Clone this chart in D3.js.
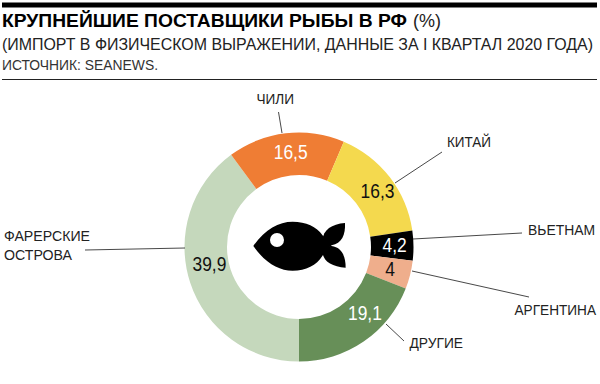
<!DOCTYPE html>
<html>
<head>
<meta charset="utf-8">
<script src="https://cdn.jsdelivr.net/npm/d3@7"></script>
<style>
  html, body { margin: 0; padding: 0; background: #fff; }
  text { font-family: "Liberation Sans", sans-serif; }
</style>
</head>
<body>
<div id="chart"></div>
<script>
const countries = ['ФАРЕРСКИЕ ОСТРОВА', 'ЧИЛИ', 'КИТАЙ', 'ВЬЕТНАМ', 'АРГЕНТИНА', 'ДРУГИЕ']
const shares = [39.9, 16.5, 16.3, 4.2, 4, 19.1]
const shareLabels = ['39,9', '16,5', '16,3', '4,2', '4', '19,1']
const colors = ['#c5d8bc', '#ef7d34', '#f4d94e', '#000000', '#efae8c', '#678f58']
const textColors = ['#111', '#fff', '#111', '#fff', '#111', '#fff']

const width = 600
const height = 384
const cx = 299
const cy = 247
const outer = 114.5
const inner = 72

const svg = d3.select('#chart')
    .append('svg')
    .attr('width', width)
    .attr('height', height)
    .style('display', 'block')

// header
svg.append('rect').attr('x', 2).attr('y', 2.5).attr('width', 595).attr('height', 5).attr('fill', '#000')
svg.append('rect').attr('x', 2).attr('y', 79).attr('width', 595).attr('height', 1).attr('fill', '#222')

svg.append('text').attr('x', 2).attr('y', 27).attr('font-size', 19).attr('font-weight', 700).attr('fill', '#000')
    .attr('textLength', 405).attr('lengthAdjust', 'spacingAndGlyphs')
    .text('КРУПНЕЙШИЕ ПОСТАВЩИКИ РЫБЫ В РФ')
svg.append('text').attr('x', 413).attr('y', 27).attr('font-size', 18).attr('fill', '#222')
    .attr('textLength', 28).attr('lengthAdjust', 'spacingAndGlyphs')
    .text('(%)')

svg.append('text').attr('x', 2).attr('y', 50).attr('font-size', 16).attr('fill', '#222')
    .attr('textLength', 591).attr('lengthAdjust', 'spacingAndGlyphs')
    .text('(ИМПОРТ В ФИЗИЧЕСКОМ ВЫРАЖЕНИИ, ДАННЫЕ ЗА I КВАРТАЛ 2020 ГОДА)')
svg.append('text').attr('x', 2).attr('y', 70).attr('font-size', 14).attr('fill', '#333')
    .attr('textLength', 156).attr('lengthAdjust', 'spacingAndGlyphs')
    .text('ИСТОЧНИК: SEANEWS.')

// donut
const pie = d3.pie().sort(null).startAngle(Math.PI).endAngle(3 * Math.PI)
const arc = d3.arc().innerRadius(inner).outerRadius(outer)
const slices = pie(shares)

const donut = svg.append('g').attr('transform', `translate(${cx},${cy})`)

donut.selectAll('path')
    .data(slices)
    .enter()
    .append('path')
    .attr('d', arc)
    .attr('fill', (d, i) => colors[i])

// value labels sit a bit off the centre of the band in the print version
const valueShift = [[-1, -5], [2.5, 4.6], [4.6, 7.9], [2.3, 6.2], [0.5, 6.4], [13.3, -3.9]]
donut.selectAll('text.value')
    .data(slices)
    .enter()
    .append('text')
    .attr('class', 'value')
    .attr('transform', (d, i) => {
        const [x, y] = arc.centroid(d)
        return `translate(${x + valueShift[i][0]},${y + valueShift[i][1]}) scale(0.87,1)`
    })
    .attr('text-anchor', 'middle')
    .attr('font-size', 20)
    .attr('fill', (d, i) => textColors[i])
    .text((d, i) => shareLabels[i])

// leader lines
const leaders = [
    { x1: 85, y1: 250, x2: 185, y2: 248 },
    { x1: 278.5, y1: 112, x2: 282, y2: 133 },
    { x1: 442, y1: 152, x2: 395, y2: 183 },
    { x1: 522, y1: 233, x2: 413, y2: 239 },
    { x1: 529, y1: 297, x2: 412, y2: 271 },
    { x1: 404, y1: 341, x2: 386, y2: 324 }
]
svg.selectAll('line.leader')
    .data(leaders)
    .enter()
    .append('line')
    .attr('class', 'leader')
    .attr('x1', d => d.x1)
    .attr('y1', d => d.y1)
    .attr('x2', d => d.x2)
    .attr('y2', d => d.y2)
    .attr('stroke', '#333')
    .attr('stroke-width', 0.9)

// country names
const names = [
    { line: 'ФАРЕРСКИЕ', x: 4, y: 241, w: 86 },
    { line: 'ОСТРОВА', x: 4, y: 260, w: 68 },
    { line: 'ЧИЛИ', x: 256.5, y: 104, w: 37.5 },
    { line: 'КИТАЙ', x: 447, y: 147, w: 44 },
    { line: 'ВЬЕТНАМ', x: 528, y: 235, w: 67 },
    { line: 'АРГЕНТИНА', x: 514.5, y: 315, w: 81.5 },
    { line: 'ДРУГИЕ', x: 409.5, y: 348, w: 53.5 }
]
svg.selectAll('text.name')
    .data(names)
    .enter()
    .append('text')
    .attr('class', 'name')
    .attr('x', d => d.x)
    .attr('y', d => d.y)
    .attr('font-size', 14)
    .attr('fill', '#222')
    .attr('textLength', d => d.w)
    .attr('lengthAdjust', 'spacingAndGlyphs')
    .text(d => d.line)

// fish
const fish = svg.append('g').attr('transform', 'translate(220,190) scale(0.3333)')
fish.append('path')
    .attr('fill', '#000')
    .attr('d', 'M100 168 C135 118 175 95 218 95 C258 95 290 110 307 135 C318 150 324 158 335 166 C322 176 316 184 307 198 C290 226 258 242 218 242 C175 242 135 218 100 168 Z')
fish.append('path')
    .attr('fill', '#000')
    .attr('d', 'M307 150 C310 120 335 102 375 99 C377 135 365 160 335 166 C322 168 312 160 307 150 Z')
fish.append('path')
    .attr('fill', '#000')
    .attr('d', 'M307 186 C312 175 322 168 335 168 C365 172 377 198 377 233 C335 230 310 214 307 186 Z')
fish.append('circle').attr('cx', 171).attr('cy', 150).attr('r', 21).attr('fill', '#fff')
</script>
</body>
</html>
